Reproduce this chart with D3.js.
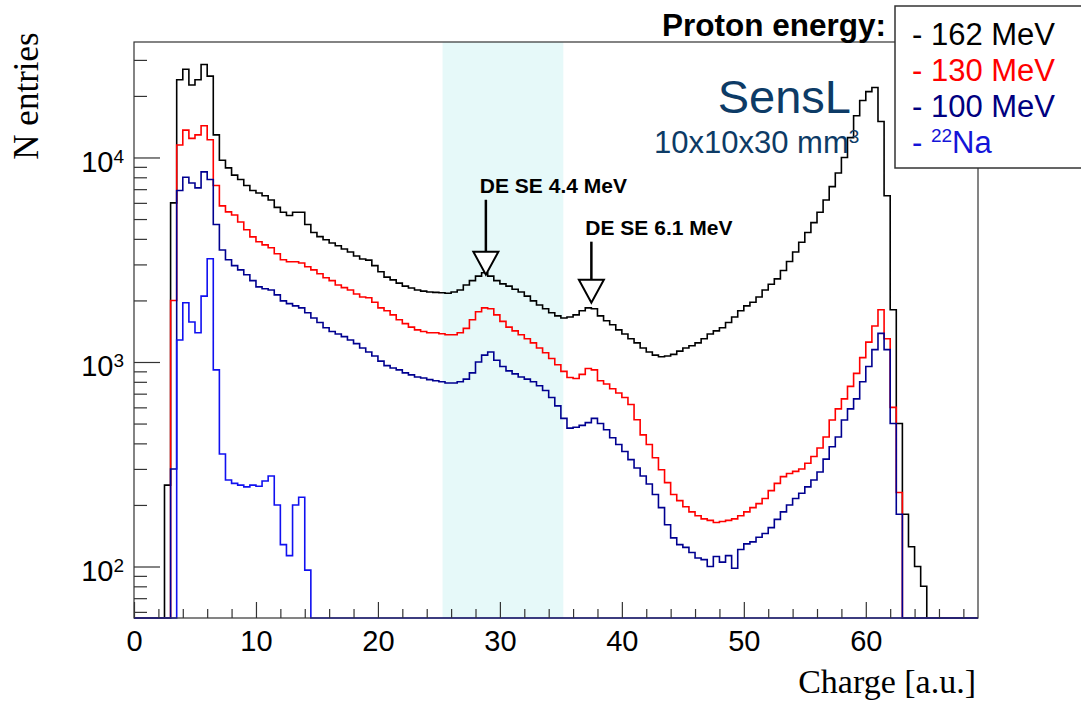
<!DOCTYPE html>
<html>
<head>
<meta charset="utf-8">
<script src="https://cdn.jsdelivr.net/npm/d3@7"></script>
<style>
  body { margin: 0; background: #fff; }
  svg text { font-family: "Liberation Sans", Arial, sans-serif; }
</style>
</head>
<body>
<div id="chart"></div>
<script>
// histograms: bins of 0.5 a.u., first bin starts at 2.5
var binStart = 2.5, binWidth = 0.5;

var h162 = [250, 6000, 24000, 27000, 22600, 24000, 28500, 25000, 12900, 9700,
  8900, 8200, 7800, 7300, 6900, 6700, 6500, 6200, 5700, 5400,
  5200, 5400, 5400, 4700, 4300, 4100, 3960, 3820, 3700, 3570,
  3450, 3300, 3190, 3150, 2960, 2760, 2600, 2520, 2430, 2350,
  2300, 2250, 2220, 2200, 2190, 2180, 2170, 2200, 2250, 2380,
  2500, 2630, 2730, 2630, 2500, 2410, 2350, 2270, 2200, 2100,
  1990, 1900, 1820, 1740, 1680, 1640, 1660, 1700, 1780, 1840,
  1820, 1680, 1590, 1520, 1435, 1370, 1300, 1240, 1170, 1120,
  1080, 1060, 1070, 1090, 1130, 1170, 1200, 1240, 1300, 1370,
  1420, 1470, 1560, 1660, 1780, 1880, 1960, 2080, 2250, 2400,
  2550, 2800, 3100, 3450, 3850, 4300, 4800, 5400, 6200, 7200,
  8400, 10000, 12500, 16000, 19000, 21000, 22000, 15000, 6500, 1800,
  500, 180, 125, 100, 80];

var h130 = [0, 2000, 11500, 13600, 12400, 12900, 14300, 12200, 7300, 5800,
  5420, 5230, 4840, 4430, 4090, 3870, 3740, 3620, 3380, 3160,
  3090, 3090, 3050, 2920, 2820, 2700, 2580, 2500, 2380, 2310,
  2250, 2150, 2080, 2060, 1960, 1840, 1780, 1700, 1610, 1540,
  1480, 1435, 1410, 1390, 1390, 1375, 1360, 1360, 1390, 1460,
  1610, 1760, 1840, 1820, 1700, 1580, 1480, 1420, 1360, 1300,
  1240, 1170, 1110, 1040, 970, 900, 840, 830, 870, 930,
  915, 810, 780, 740, 705, 670, 620, 522, 440, 395,
  340, 297, 257, 225, 210, 196, 185, 177, 171, 168,
  164, 166, 168, 171, 177, 185, 194, 203, 215, 235,
  255, 275, 285, 292, 300, 320, 345, 380, 430, 520,
  590, 660, 760, 880, 1050, 1250, 1500, 1800, 1300, 600,
  230, 0, 0, 0, 0];

var h100 = [0, 300, 6900, 8000, 7500, 7100, 8500, 7800, 4700, 3530,
  3160, 2960, 2820, 2670, 2500, 2330, 2280, 2250, 2130, 1990,
  1930, 1880, 1840, 1740, 1640, 1560, 1470, 1410, 1370, 1330,
  1280, 1230, 1170, 1120, 1070, 1010, 960, 935, 915, 885,
  865, 845, 835, 820, 810, 800, 790, 790, 800, 825,
  885, 1000, 1080, 1120, 1020, 950, 905, 875, 845, 825,
  800, 765, 725, 670, 610, 530, 475, 480, 490, 505,
  530, 500, 466, 426, 395, 365, 333, 303, 277, 253,
  225, 194, 160, 138, 128, 124, 117, 110, 108, 100,
  112, 105, 113, 98, 121, 129, 132, 139, 145, 155,
  170, 185, 200, 215, 228, 245, 265, 290, 335, 385,
  430, 520, 590, 660, 800, 950, 1150, 1380, 1150, 500,
  180, 0, 0, 0, 0];

var hNa = [0, 0, 1280, 1950, 1570, 1390, 2100, 3200, 915, 355,
  265, 255, 250, 245, 250, 247, 262, 277, 200, 128,
  113, 200, 218, 96, 0];

var series = [
  {name: "162 MeV", values: h162, color: "#000000"},
  {name: "130 MeV", values: h130, color: "#ff0000"},
  {name: "100 MeV", values: h100, color: "#000090"},
  {name: "22Na", values: hNa, color: "#1010f0"}
];

var xTicksMajor = [0, 10, 20, 30, 40, 50, 60];
var yTicksMajor = [100, 1000, 10000];
var yExponents = {100: "2", 1000: "3", 10000: "4"};
var band = [25.3, 35.2];

var annotations = [
  {label: "DE SE 4.4 MeV", x: 28.85, n: 2670, stem: 52},
  {label: "DE SE 6.1 MeV", x: 37.5, n: 1950, stem: 38}
];

var W = 1081, H = 704;
var margin = {top: 42, right: 103, bottom: 86, left: 134};
var width = W - margin.left - margin.right,
    height = H - margin.top - margin.bottom;

var xMax = 69.2, yMin = 56, yMax = 36700;
var x = d3.scaleLinear().domain([0, xMax]).range([0, width]);
var y = d3.scaleLog().domain([yMin, yMax]).range([height, 0]);

var svg = d3.select("#chart").append("svg")
  .attr("width", W).attr("height", H)
  .style("display", "block");

var g = svg.append("g")
  .attr("transform", "translate(" + margin.left + "," + margin.top + ")");

svg.append("defs").append("clipPath").attr("id", "plotclip")
  .append("rect").attr("x", 0).attr("y", -2).attr("width", width).attr("height", height + 3);

// highlighted charge window
g.append("rect")
  .attr("x", x(band[0])).attr("y", 0)
  .attr("width", x(band[1]) - x(band[0])).attr("height", height)
  .style("fill", "#e6f9f9");

// histograms
var line = d3.line()
  .x(function(d) { return x(d[0]); })
  .y(function(d) { return y(Math.max(d[1], yMin)); })
  .curve(d3.curveStepAfter);

var plot = g.append("g").attr("clip-path", "url(#plotclip)");
series.forEach(function(s) {
  var pts = [[0, 0]];
  s.values.forEach(function(v, i) { pts.push([binStart + i * binWidth, v]); });
  pts.push([binStart + s.values.length * binWidth, 0]);
  pts.push([xMax, 0]);
  plot.append("path")
    .datum(pts)
    .attr("d", line)
    .style("fill", "none")
    .style("stroke", s.color)
    .style("stroke-width", 1.6);
});

// frame
g.append("rect")
  .attr("width", width).attr("height", height)
  .style("fill", "none").style("stroke", "#333").style("stroke-width", 1.2);

// x axis
var xMinor = d3.range(0, xMax, 2).filter(function(v) { return v % 10 !== 0; });
g.append("g").attr("class", "xminor")
  .attr("transform", "translate(0," + height + ")")
  .call(d3.axisBottom(x).tickValues(xMinor).tickSize(-9).tickFormat(""));
g.append("g").attr("class", "xaxis")
  .attr("transform", "translate(0," + height + ")")
  .call(d3.axisBottom(x).tickValues(xTicksMajor).tickSize(-16).tickPadding(12).tickFormat(d3.format("d")));

// y axis
var yMinor = [];
[10, 100, 1000, 10000].forEach(function(dec) {
  for (var k = 2; k <= 9; k++) {
    var v = dec * k;
    if (v > yMin && v < yMax) yMinor.push(v);
  }
});
g.append("g").attr("class", "yminor")
  .call(d3.axisLeft(y).tickValues(yMinor).tickSize(-13).tickFormat(""));
var yAxis = g.append("g").attr("class", "yaxis")
  .call(d3.axisLeft(y).tickValues(yTicksMajor).tickSize(-26).tickPadding(10).tickFormat(""));

yAxis.selectAll(".tick text").each(function(d) {
  var t = d3.select(this).attr("dy", "0.48em").style("font-size", "29px");
  t.append("tspan").text("10");
  t.append("tspan").attr("dy", -9).style("font-size", "19px").text(yExponents[d]);
});

g.selectAll(".xaxis text")
  .style("font-size", "29px").style("fill", "#000");
g.selectAll("path.domain").style("stroke", "none");
g.selectAll(".tick line").style("stroke", "#333").style("stroke-width", 1.2);

// axis titles
svg.append("text")
  .attr("transform", "translate(38,96) rotate(-90)")
  .attr("text-anchor", "middle")
  .style("font-family", "'Liberation Serif', 'Times New Roman', serif")
  .style("font-size", "35px")
  .text("N entries");

svg.append("text")
  .attr("x", 976).attr("y", 693)
  .attr("text-anchor", "end")
  .style("font-family", "'Liberation Serif', 'Times New Roman', serif")
  .style("font-size", "34px")
  .text("Charge [a.u.]");

// annotations
annotations.forEach(function(a) {
  var tx = margin.left + x(a.x), ty = margin.top + y(a.n);
  var baseY = ty - 23, topY = baseY - a.stem;
  svg.append("line")
    .attr("x1", tx).attr("x2", tx).attr("y1", topY).attr("y2", baseY)
    .style("stroke", "#000").style("stroke-width", 2.5);
  svg.append("path")
    .attr("d", "M" + (tx - 12.5) + "," + baseY + "L" + (tx + 12.5) + "," + baseY + "L" + tx + "," + ty + "Z")
    .style("fill", "#fff").style("stroke", "#000").style("stroke-width", 2);
  svg.append("text")
    .attr("x", tx - 6).attr("y", topY - 7)
    .style("font-size", "21px").style("font-weight", "bold")
    .text(a.label);
});

// detector label
svg.append("text")
  .attr("x", 851).attr("y", 113)
  .attr("text-anchor", "end")
  .style("font-size", "47px").style("fill", "#0d3b66")
  .text("SensL");
var dim = svg.append("text")
  .attr("x", 654).attr("y", 153)
  .style("font-size", "31px").style("fill", "#0d3b66");
dim.append("tspan").text("10x10x30 mm");
dim.append("tspan").attr("dy", -10).style("font-size", "19px").text("3");

// legend
svg.append("text")
  .attr("x", 886).attr("y", 36)
  .attr("text-anchor", "end")
  .style("font-size", "31.5px").style("font-weight", "bold")
  .text("Proton energy:");

svg.append("rect")
  .attr("x", 895).attr("y", 6).attr("width", 200).attr("height", 162)
  .style("fill", "#fff").style("stroke", "#333").style("stroke-width", 1.5);

var legendColors = ["#000000", "#ff0000", "#000080", "#1414d8"];
series.forEach(function(s, i) {
  var t = svg.append("text")
    .attr("x", 912).attr("y", 45 + i * 36)
    .style("font-size", "31px").style("fill", legendColors[i]);
  if (s.name === "22Na") {
    t.append("tspan").text("- ");
    t.append("tspan").attr("dy", -11).style("font-size", "19px").text("22");
    t.append("tspan").attr("dy", 11).text("Na");
  } else {
    t.text("- " + s.name);
  }
});
</script>
</body>
</html>
